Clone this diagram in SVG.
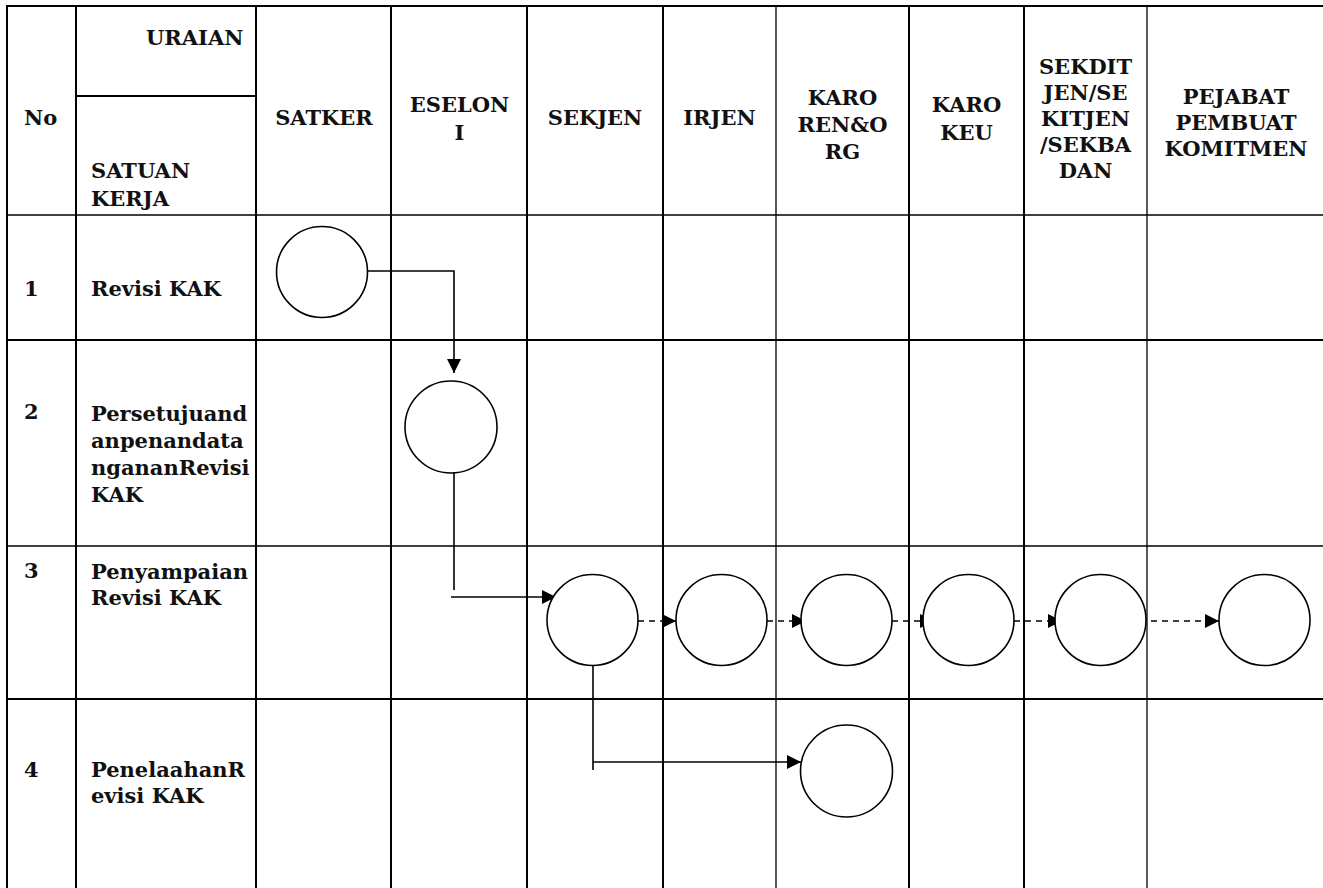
<svg xmlns="http://www.w3.org/2000/svg" width="1323" height="888" viewBox="0 0 1323 888">
<style>
text{font-family:"DejaVu Serif","Liberation Serif",serif;font-weight:bold;font-size:21px;fill:#111}
.c{text-anchor:middle}
.g{stroke:#000;stroke-width:2;fill:none}
.gt{stroke:#000;stroke-width:1.3;fill:none}
.n{fill:#fff;stroke:#000;stroke-width:1.6}
.l{stroke:#000;stroke-width:1.6;fill:none}
.d{stroke:#000;stroke-width:1.6;fill:none;stroke-dasharray:6 5}
</style>
<defs>
<marker id="ah" viewBox="0 0 14 14" refX="14" refY="7" markerWidth="14" markerHeight="14" markerUnits="userSpaceOnUse" orient="auto">
<path d="M0,0 L14,7 L0,14 Z" fill="#000"/>
</marker>
</defs>
<rect width="1323" height="888" fill="#fff"/>
<g id="grid">
<line class="g" x1="7" y1="6" x2="1323" y2="6"/>
<line class="g" x1="7" y1="5" x2="7" y2="888"/>
<line class="g" x1="76" y1="5" x2="76" y2="888"/>
<line class="g" x1="256" y1="5" x2="256" y2="888"/>
<line class="g" x1="391" y1="5" x2="391" y2="888"/>
<line class="g" x1="527" y1="5" x2="527" y2="888"/>
<line class="g" x1="663" y1="5" x2="663" y2="888"/>
<line class="gt" x1="776" y1="5" x2="776" y2="888"/>
<line class="g" x1="909" y1="5" x2="909" y2="888"/>
<line class="g" x1="1024" y1="5" x2="1024" y2="888"/>
<line class="gt" x1="1147" y1="5" x2="1147" y2="888"/>
<line class="g" x1="76" y1="96" x2="256" y2="96"/>
<line class="gt" x1="7" y1="215" x2="1323" y2="215"/>
<line class="g" x1="7" y1="340" x2="1323" y2="340"/>
<line class="gt" x1="7" y1="546" x2="1323" y2="546"/>
<line class="g" x1="7" y1="699" x2="1323" y2="699"/>
</g>
<g id="header">
<text x="24" y="125">No</text>
<text x="146" y="45">URAIAN</text>
<text x="91" y="178">SATUAN<tspan x="91" y="206">KERJA</tspan></text>
<text class="c" x="324" y="125">SATKER</text>
<text class="c" x="459.5" y="112">ESELON<tspan x="459.5" y="140">I</tspan></text>
<text class="c" x="595" y="125">SEKJEN</text>
<text class="c" x="719.5" y="125">IRJEN</text>
<text class="c" x="842.5" y="105">KARO<tspan x="842.5" y="132">REN&amp;O</tspan><tspan x="842.5" y="159">RG</tspan></text>
<text class="c" x="966.5" y="112">KARO<tspan x="966.5" y="140">KEU</tspan></text>
<text class="c" x="1085.5" y="74">SEKDIT<tspan x="1085.5" y="100">JEN/SE</tspan><tspan x="1085.5" y="126">KITJEN</tspan><tspan x="1085.5" y="152">/SEKBA</tspan><tspan x="1085.5" y="178">DAN</tspan></text>
<text class="c" x="1236" y="104">PEJABAT<tspan x="1236" y="130">PEMBUAT</tspan><tspan x="1236" y="156">KOMITMEN</tspan></text>
</g>
<g id="rows">
<text x="24" y="296">1</text>
<text x="91" y="296">Revisi KAK</text>
<text x="24" y="419">2</text>
<text x="91" y="421">Persetujuand<tspan x="91" y="448">anpenandata</tspan><tspan x="91" y="475">ngananRevisi</tspan><tspan x="91" y="502">KAK</tspan></text>
<text x="24" y="578">3</text>
<text x="91" y="579">Penyampaian<tspan x="91" y="605">Revisi KAK</tspan></text>
<text x="24" y="777">4</text>
<text x="91" y="777">PenelaahanR<tspan x="91" y="803">evisi KAK</tspan></text>
</g>
<g id="connectors">
<polyline class="l" points="367,271 454,271 454,373" marker-end="url(#ah)"/>
<line class="l" x1="454" y1="473" x2="454" y2="590"/>
<line class="l" x1="451" y1="597" x2="556" y2="597" marker-end="url(#ah)"/>
<line class="d" x1="638" y1="621" x2="676" y2="621" marker-end="url(#ah)"/>
<line class="d" x1="767" y1="621" x2="806" y2="621" marker-end="url(#ah)"/>
<line class="d" x1="892" y1="621" x2="934" y2="621" marker-end="url(#ah)"/>
<line class="d" x1="1014" y1="621" x2="1062" y2="621" marker-end="url(#ah)"/>
<line class="d" x1="1140" y1="621" x2="1219" y2="621" marker-end="url(#ah)"/>
<line class="l" x1="593" y1="666" x2="593" y2="770"/>
<line class="l" x1="593" y1="762" x2="801" y2="762" marker-end="url(#ah)"/>
</g>
<g id="n1"><circle class="n" cx="322" cy="272" r="45.5"/></g>
<g id="n2"><circle class="n" cx="451" cy="427" r="46"/></g>
<g id="n3"><circle class="n" cx="592.5" cy="620" r="45.5"/></g>
<g id="n4"><circle class="n" cx="721.5" cy="620" r="45.5"/></g>
<g id="n5"><circle class="n" cx="846.5" cy="620" r="45.5"/></g>
<g id="n6"><circle class="n" cx="968.5" cy="620" r="45.5"/></g>
<g id="n7"><circle class="n" cx="1100.5" cy="620" r="45.5"/></g>
<g id="n8"><circle class="n" cx="1264.5" cy="620" r="45.5"/></g>
<g id="n9"><circle class="n" cx="846.5" cy="771" r="46"/></g>
</svg>
